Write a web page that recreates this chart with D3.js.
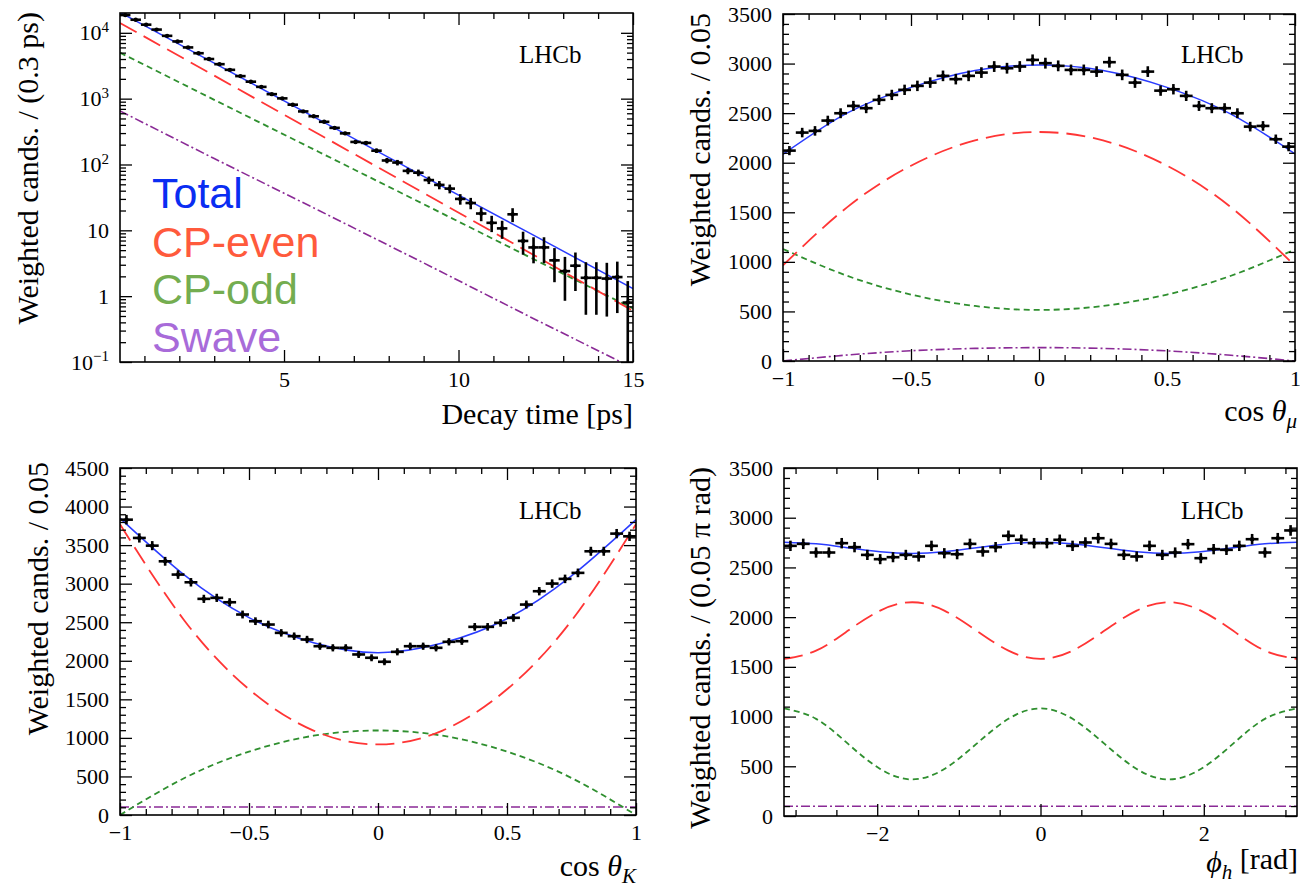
<!DOCTYPE html>
<html><head><meta charset="utf-8">
<script src="https://cdn.jsdelivr.net/npm/d3@7"></script>
<style>
body{margin:0;background:#fff;}
svg{display:block;}
text{font-family:"Liberation Serif","Times New Roman",serif;fill:#000;}
text.legend{font-family:"Liberation Sans",Arial,Helvetica,sans-serif;}
</style></head><body>
<svg id="c" width="1300" height="890"></svg>
<script>
// ---------------- DATA ----------------
// Panel 1: decay time (bins of 0.3 ps starting at 0.3 ps)
const timeBinStart = 0.3, timeBinWidth = 0.3;
const timeCounts = [18600, 15800, 13300, 11200, 9000, 7400, 6000, 4900, 4000, 3340,
  2740, 2200, 1810, 1510, 1170, 1010, 810, 640, 540, 445,
  360, 297, 220, 213, 162, 115, 107, 80, 75, 58,
  49, 43, 30, 26, 18, 13, 10.7, 17.5, 6.9, 5.5,
  5.5, 3.5, 2.4, 2.9, 1.9, 1.9, 1.85, 1.95, 0.8];
const timeCurveX = [0.3, 3, 6, 9, 12, 15];
const timeTotal = [20400, 3470, 480, 66, 9.3, 1.3];
const timeEven  = [14100, 2240, 288, 37, 4.7, 0.6];
const timeOdd   = [5000, 960, 155, 25, 4.0, 0.65];
const timeSwave = [650, 123, 20, 3.2, 0.5, 0.081];
const timeXTicks = [5, 10, 15];
const timeXLabels = ['5', '10', '15'];
const timeYTicks = [0.1, 1, 10, 100, 1000, 10000];
const timeYLabels = [['10', '\u22121'], ['1', ''], ['10', ''], ['10', '2'], ['10', '3'], ['10', '4']];

// Panel 2: cos theta_mu (40 bins of 0.05)
const cosMuCounts = [2122, 2304, 2321, 2425, 2499, 2573, 2550, 2634, 2684, 2735,
  2775, 2808, 2876, 2843, 2876, 2909, 2970, 2953, 2970, 3037,
  3004, 2977, 2936, 2936, 2919, 3014, 2886, 2808, 2919, 2727,
  2741, 2674, 2573, 2550, 2550, 2499, 2364, 2371, 2237, 2162];
const cosCurveX = [-1, -0.75, -0.5, -0.25, 0, 0.25, 0.5, 0.75, 1];
const muTotal = [2085, 2500, 2760, 2930, 2985, 2930, 2760, 2490, 2090];
const muEven  = [965, 1550, 1970, 2225, 2310, 2225, 1970, 1550, 960];
const muOdd   = [1130, 860, 670, 555, 515, 555, 670, 860, 1125];
const muSwave = [0, 60, 103, 127, 135, 127, 102, 58, 0];

// Panel 3: cos theta_K (40 bins of 0.05)
const cosKCounts = [3830, 3593, 3493, 3290, 3118, 3018, 2803, 2816, 2759, 2600,
  2513, 2470, 2362, 2319, 2276, 2189, 2168, 2168, 2082, 2039,
  1987, 2116, 2189, 2189, 2168, 2246, 2254, 2440, 2440, 2492,
  2557, 2729, 2902, 3001, 3062, 3140, 3420, 3420, 3649, 3614];
const kTotal = [3850, 3110, 2560, 2235, 2105, 2230, 2545, 3100, 3830];
const kEven  = [3770, 2520, 1630, 1095, 915, 1095, 1630, 2520, 3770];
const kOdd   = [0, 480, 822, 1028, 1096, 1028, 822, 480, 0];
const kSwave = [104, 104, 104, 104, 104, 104, 104, 104, 104];
const cosXTicks = [-1, -0.5, 0, 0.5, 1];
const cosXLabels = ['\u22121', '\u22120.5', '0', '0.5', '1'];

// Panel 4: phi_h (40 bins of 0.05 pi)
const phiCounts = [2717, 2737, 2650, 2650, 2744, 2704, 2626, 2583, 2603, 2626,
  2610, 2717, 2643, 2633, 2737, 2660, 2704, 2818, 2778, 2744,
  2744, 2778, 2717, 2751, 2794, 2737, 2626, 2610, 2717, 2626,
  2650, 2734, 2593, 2684, 2677, 2717, 2784, 2650, 2794, 2872];
const phiCurveX = d3.range(17).map(k => -Math.PI + k * Math.PI / 8);
const phiTotal = [2754, 2737, 2697, 2657, 2640, 2657, 2697, 2737, 2754, 2737, 2697, 2657, 2640, 2657, 2697, 2737, 2754];
const phiEven  = [1580, 1663, 1865, 2066, 2150, 2066, 1865, 1663, 1580, 1663, 1865, 2066, 2150, 2066, 1865, 1663, 1580];
const phiOdd   = [1082, 977, 725, 473, 368, 473, 725, 977, 1082, 977, 725, 473, 368, 473, 725, 977, 1082];
const phiSwave = [98, 98, 98, 98, 98, 98, 98, 98, 98, 98, 98, 98, 98, 98, 98, 98, 98];
const phiXTicks = [-2, 0, 2];
const phiXLabels = ['\u22122', '0', '2'];

const yTicks3500 = [0, 500, 1000, 1500, 2000, 2500, 3000, 3500];
const yLabels3500 = ['0', '500', '1000', '1500', '2000', '2500', '3000', '3500'];
const yTicks4500 = [0, 500, 1000, 1500, 2000, 2500, 3000, 3500, 4000, 4500];
const yLabels4500 = ['0', '500', '1000', '1500', '2000', '2500', '3000', '3500', '4000', '4500'];

const legendNames = ['Total', 'CP-even', 'CP-odd', 'Swave'];
const legendColors = ['#0a2df2', '#ff5a3c', '#74ad50', '#a86bd9'];

// ---------------- STYLE ----------------
const C_TOTAL = '#2a3cff', C_EVEN = '#ff3535', C_ODD = '#2f8f2f', C_SW = '#8a2a96';
function curveSet(xs, tot, ev, od, sw, curve) {
  return [
    {xs, ys: sw, color: C_SW, width: 1.6, dash: '9,3,2,3', curve},
    {xs, ys: od, color: C_ODD, width: 1.8, dash: '6,4', curve},
    {xs, ys: ev, color: C_EVEN, width: 1.8, dash: '19,8', curve},
    {xs, ys: tot, color: C_TOTAL, width: 1.5, dash: null, curve}
  ];
}

const svg = d3.select('#c');

function drawPanel(p) {
  const g = svg.append('g');
  const x = d3.scaleLinear().domain(p.xDomain).range([p.left, p.right]);
  const y = (p.log ? d3.scaleLog() : d3.scaleLinear()).domain(p.yDomain).range([p.bottom, p.top]);
  const clipId = 'clip' + p.id;
  svg.append('clipPath').attr('id', clipId).append('rect')
    .attr('x', p.left).attr('y', p.top).attr('width', p.right - p.left).attr('height', p.bottom - p.top);

  // curves
  const cg = g.append('g').attr('clip-path', `url(#${clipId})`);
  p.curves.forEach(c => {
    const line = d3.line().x((d, i) => x(c.xs[i])).y(d => y(d)).curve(c.curve || d3.curveNatural);
    cg.append('path').attr('d', line(c.ys)).attr('fill', 'none')
      .attr('stroke', c.color).attr('stroke-width', c.width)
      .attr('stroke-dasharray', c.dash);
  });

  // data points with error bars
  const dg = g.append('g').attr('clip-path', `url(#${clipId})`)
    .attr('stroke', '#000').attr('stroke-width', 2.6);
  p.counts.forEach((v, i) => {
    const cx = p.center(i);
    const e = Math.sqrt(v);
    let lo = v - e;
    if (p.log && lo <= 0) lo = p.yDomain[0] / 10;
    dg.append('line').attr('x1', x(cx - p.hw)).attr('x2', x(cx + p.hw)).attr('y1', y(v)).attr('y2', y(v));
    dg.append('line').attr('x1', x(cx)).attr('x2', x(cx)).attr('y1', y(lo)).attr('y2', y(v + e));
    dg.append('circle').attr('cx', x(cx)).attr('cy', y(v)).attr('r', 2.2).attr('fill', '#000').attr('stroke', 'none');
  });

  // axes
  const MAJ = 12, MIN = 6;
  const ax = g.append('g');
  const xLab = new Map(p.xTicks.map((t, i) => [t, p.xLabels[i]]));
  ax.append('g').attr('transform', `translate(0,${p.bottom})`)
    .call(d3.axisBottom(x).tickValues(p.xTicks).tickSize(-MAJ).tickPadding(9).tickFormat(d => xLab.get(d)));
  ax.append('g').attr('transform', `translate(0,${p.bottom})`)
    .call(d3.axisBottom(x).tickValues(p.xMinor).tickSize(-MIN).tickFormat(''));
  ax.append('g').attr('transform', `translate(0,${p.top})`)
    .call(d3.axisTop(x).tickValues(p.xTicks).tickSize(-MAJ).tickFormat(''));
  ax.append('g').attr('transform', `translate(0,${p.top})`)
    .call(d3.axisTop(x).tickValues(p.xMinor).tickSize(-MIN).tickFormat(''));
  const yl = ax.append('g').attr('transform', `translate(${p.left},0)`)
    .call(d3.axisLeft(y).tickValues(p.yTicks).tickSize(-MAJ).tickPadding(11).tickFormat(''));
  ax.append('g').attr('transform', `translate(${p.left},0)`)
    .call(d3.axisLeft(y).tickValues(p.yMinor).tickSize(-MIN).tickFormat(''));
  ax.append('g').attr('transform', `translate(${p.right},0)`)
    .call(d3.axisRight(y).tickValues(p.yTicks).tickSize(-MAJ).tickFormat(''));
  ax.append('g').attr('transform', `translate(${p.right},0)`)
    .call(d3.axisRight(y).tickValues(p.yMinor).tickSize(-MIN).tickFormat(''));
  ax.selectAll('.domain').remove();
  ax.selectAll('.tick line').attr('stroke', '#000').attr('stroke-width', 1.3);
  ax.selectAll('.tick text').attr('font-size', 22).attr('font-family', '"Liberation Serif",serif').attr('fill', '#000');

  // y labels (with optional superscripts)
  yl.selectAll('.tick text').each(function (d, i) {
    const t = d3.select(this);
    const lab = p.yLabels[i];
    if (Array.isArray(lab)) {
      t.text(null);
      t.append('tspan').text(lab[0]);
      if (lab[1]) t.append('tspan').attr('font-size', 15).attr('dy', '-0.55em').text(lab[1]);
    } else {
      t.text(lab);
    }
  });

  // frame
  g.append('rect').attr('x', p.left).attr('y', p.top).attr('width', p.right - p.left).attr('height', p.bottom - p.top)
    .attr('fill', 'none').attr('stroke', '#000').attr('stroke-width', 1.6);

  // LHCb label
  g.append('text').attr('x', p.lhcb[0]).attr('y', p.lhcb[1]).attr('font-size', 25).text('LHCb');

  // y title
  g.append('text').attr('transform', `translate(${p.yTitlePos[0]},${p.yTitlePos[1]}) rotate(-90)`)
    .attr('text-anchor', 'end').attr('font-size', 30).text(p.yTitle);

  // x title
  const xt = g.append('text').attr('x', p.xTitlePos[0]).attr('y', p.xTitlePos[1])
    .attr('text-anchor', 'end').attr('font-size', 30);
  p.xTitle.forEach(part => {
    const s = xt.append('tspan').text(part.t);
    if (part.italic) s.attr('font-style', 'italic');
    if (part.size) s.attr('font-size', part.size);
    if (part.dy) s.attr('dy', part.dy);
  });
  return {x, y};
}

function minorTicks(lo, hi, step, majors) {
  const out = [];
  for (let k = Math.ceil(lo / step - 1e-9); k * step <= hi + 1e-9; k++) {
    const v = +(k * step).toFixed(6);
    if (!majors.some(m => Math.abs(m - v) < 1e-6)) out.push(v);
  }
  return out;
}
function logMinor(lo, hi) {
  const out = [];
  for (let e = -2; e <= 5; e++) for (let m = 2; m <= 9; m++) {
    const v = m * Math.pow(10, e);
    if (v > lo && v < hi) out.push(v);
  }
  return out;
}

// Panel 1
drawPanel({
  id: 1, left: 120, right: 633, top: 13, bottom: 362, log: true,
  xDomain: [0.3, 15], yDomain: [0.1, 20000],
  counts: timeCounts, center: i => timeBinStart + timeBinWidth * (i + 0.5), hw: timeBinWidth / 2,
  curves: curveSet(timeCurveX, timeTotal, timeEven, timeOdd, timeSwave, d3.curveLinear),
  xTicks: timeXTicks, xLabels: timeXLabels, xMinor: minorTicks(0.3, 15, 1, timeXTicks),
  yTicks: timeYTicks, yLabels: timeYLabels, yMinor: logMinor(0.1, 20000),
  lhcb: [519, 63], yTitle: 'Weighted cands. / (0.3 ps)', yTitlePos: [37.5, 12],
  xTitle: [{t: 'Decay time [ps]'}], xTitlePos: [633, 424]
});

// Panel 2
drawPanel({
  id: 2, left: 783, right: 1295, top: 14, bottom: 361, log: false,
  xDomain: [-1, 1], yDomain: [0, 3500],
  counts: cosMuCounts, center: i => -1 + 0.05 * (i + 0.5), hw: 0.025,
  curves: curveSet(cosCurveX, muTotal, muEven, muOdd, muSwave, d3.curveNatural),
  xTicks: cosXTicks, xLabels: cosXLabels, xMinor: minorTicks(-1, 1, 0.1, cosXTicks),
  yTicks: yTicks3500, yLabels: yLabels3500, yMinor: minorTicks(0, 3500, 100, yTicks3500),
  lhcb: [1181, 63], yTitle: 'Weighted cands. / 0.05', yTitlePos: [710, 13],
  xTitle: [{t: 'cos '}, {t: '\u03b8', italic: true}, {t: '\u03bc', italic: true, size: 21, dy: '0.35em'}],
  xTitlePos: [1297, 421]
});

// Panel 3
drawPanel({
  id: 3, left: 120, right: 636, top: 468, bottom: 815, log: false,
  xDomain: [-1, 1], yDomain: [0, 4500],
  counts: cosKCounts, center: i => -1 + 0.05 * (i + 0.5), hw: 0.025,
  curves: curveSet(cosCurveX, kTotal, kEven, kOdd, kSwave, d3.curveNatural),
  xTicks: cosXTicks, xLabels: cosXLabels, xMinor: minorTicks(-1, 1, 0.1, cosXTicks),
  yTicks: yTicks4500, yLabels: yLabels4500, yMinor: minorTicks(0, 4500, 100, yTicks4500),
  lhcb: [519, 519], yTitle: 'Weighted cands. / 0.05', yTitlePos: [47.5, 462],
  xTitle: [{t: 'cos '}, {t: '\u03b8', italic: true}, {t: 'K', italic: true, size: 21, dy: '0.35em'}],
  xTitlePos: [636, 876]
});

// Panel 4
drawPanel({
  id: 4, left: 784, right: 1297, top: 468, bottom: 816, log: false,
  xDomain: [-Math.PI, Math.PI], yDomain: [0, 3500],
  counts: phiCounts, center: i => -Math.PI + 0.05 * Math.PI * (i + 0.5), hw: 0.025 * Math.PI,
  curves: curveSet(phiCurveX, phiTotal, phiEven, phiOdd, phiSwave, d3.curveNatural),
  xTicks: phiXTicks, xLabels: phiXLabels, xMinor: minorTicks(-3, 3, 0.5, phiXTicks),
  yTicks: yTicks3500, yLabels: yLabels3500, yMinor: minorTicks(0, 3500, 100, yTicks3500),
  lhcb: [1181, 519], yTitle: 'Weighted cands. / (0.05 \u03c0 rad)', yTitlePos: [710, 467],
  xTitle: [{t: '\u03d5', italic: true}, {t: 'h', italic: true, size: 21, dy: '0.35em'}, {t: ' [rad]', dy: '-0.35em'}],
  xTitlePos: [1298, 872]
});

// Legend (top-left panel)
const legendBaselines = [208, 257, 304, 352];
svg.append('g').selectAll('text').data(legendNames).join('text')
  .attr('class', 'legend')
  .attr('x', 152).attr('y', (d, i) => legendBaselines[i])
  .attr('font-size', 43)
  .style('fill', (d, i) => legendColors[i])
  .text(d => d);
</script>
</body></html>
